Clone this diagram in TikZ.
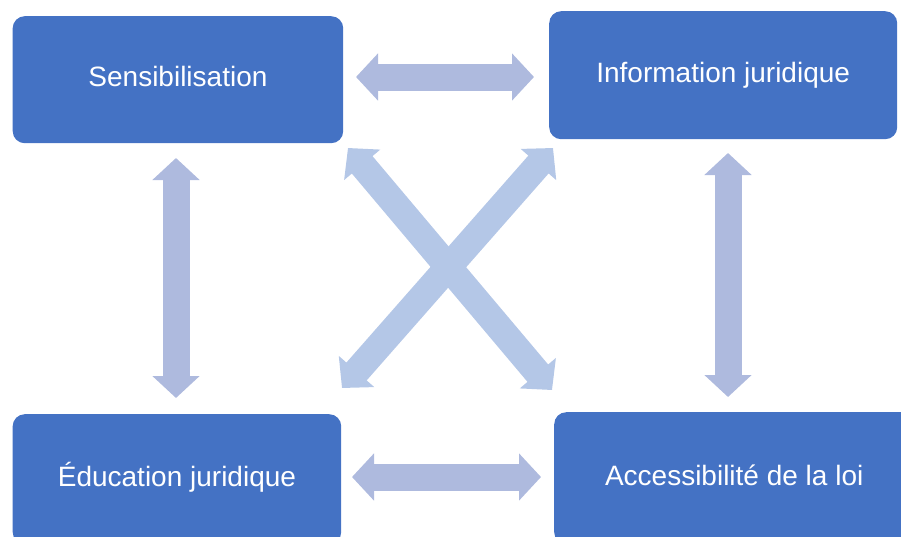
\documentclass[tikz,border=0pt]{standalone}
\usepackage{fontspec}
\setmainfont{Liberation Sans}
\usetikzlibrary{arrows.meta}

\definecolor{boxblue}{HTML}{4472C4}
\definecolor{linkblue}{HTML}{AEBADE}
\definecolor{crossblue}{HTML}{B4C7E7}

\tikzset{
  topic/.style={fill=boxblue, rounded corners=12pt, text=white,
    font=\fontsize{28}{32}\selectfont, inner sep=0pt, anchor=north west,
    text height=20pt, text depth=6pt},
  link/.style={draw=linkblue, line width=27pt,
    {Triangle[length=22pt,width=46pt,fill=linkblue]}-{Triangle[length=22pt,width=46pt,fill=linkblue]}},
  crosslink/.style={link, draw=crossblue,
    {Triangle[length=22pt,width=46pt,fill=crossblue]}-{Triangle[length=22pt,width=46pt,fill=crossblue]}},
}

\begin{document}
\begin{tikzpicture}[x=1pt,y=-1pt]
  \useasboundingbox (0,0) rectangle (901,536);

  % the four themes
  \node[topic, minimum width=330.5pt, minimum height=127pt] (sens) at (12.5,16) {Sensibilisation};
  \node[topic, minimum width=348pt, minimum height=128pt] (info) at (549,11) {Information juridique};
  \node[topic, minimum width=328.5pt, minimum height=130pt] (educ) at (12.5,414) {Éducation juridique};
  \node[topic, minimum width=360pt, minimum height=132pt] (acces) at (554,412) {Accessibilité de la loi};

  % arrow end points
  \coordinate (topL) at (356,77);
  \coordinate (topR) at (534,77);
  \coordinate (botL) at (352,477);
  \coordinate (botR) at (541,477);
  \coordinate (leftT) at (176,158);
  \coordinate (leftB) at (176,398);
  \coordinate (rightT) at (728,153);
  \coordinate (rightB) at (728,397);
  \coordinate (diagTL) at (348,148);
  \coordinate (diagBR) at (552,390);
  \coordinate (diagTR) at (553,148);
  \coordinate (diagBL) at (342,388);

  % two-way links between the themes
  \draw[link] (topL) -- (topR);
  \draw[link] (botL) -- (botR);
  \draw[link] (leftT) -- (leftB);
  \draw[link] (rightT) -- (rightB);
  \draw[crosslink] (diagTL) -- (diagBR);
  \draw[crosslink] (diagTR) -- (diagBL);
\end{tikzpicture}
\end{document}
